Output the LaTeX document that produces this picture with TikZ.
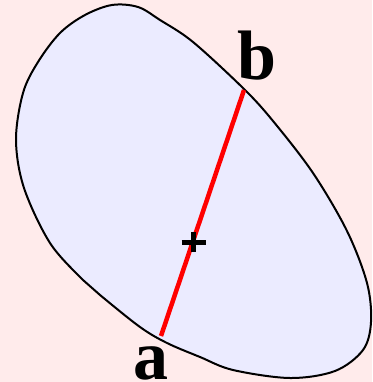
\documentclass[tikz,border=0pt]{standalone}
\usepackage{fontspec}
\setmainfont{Liberation Serif}
\definecolor{bgpink}{RGB}{255,235,235}
\definecolor{blobfill}{RGB}{235,235,255}
\definecolor{chordred}{RGB}{255,0,0}
\begin{document}
\begin{tikzpicture}[x=1pt,y=-1pt,
  blob/.style={draw=black,line width=2pt,fill=blobfill},
  chord/.style={draw=chordred,line width=4.5pt},
  plusbar/.style={draw=black,line width=5pt},
  lbl/.style={font=\fontsize{70}{70}\selectfont\bfseries,inner sep=0pt,anchor=base}]
\fill[bgpink] (0,0) rectangle (372,382);
\useasboundingbox (0,0) rectangle (372,382);
\draw[blob] plot[smooth cycle,tension=0.55] coordinates {
 (112,5) (138,7) (160,20) (193,42) (244,89) (273,121) (313,173) (347,231)
 (367,283) (371,322) (363,350) (335,371) (290,378) (233,370) (200,357)
 (167,343) (140,327) (100,295) (83,280) (50,243) (24,188) (16,140) (23,93) (38,62) (60,33) (85,15)};
\coordinate (a) at (161,336);
\coordinate (b) at (244,90);
\coordinate (m) at (193.5,242);
\draw[chord] (a) -- (b);
\draw[plusbar] ([xshift=-12pt]m) -- ([xshift=12pt]m);
\draw[plusbar] ([yshift=10pt]m) -- ([yshift=-10pt]m);
\node[lbl] (la) at (150.5,379) {a};
\node[lbl] (lb) at (257,80) {b};
\end{tikzpicture}
\end{document}
